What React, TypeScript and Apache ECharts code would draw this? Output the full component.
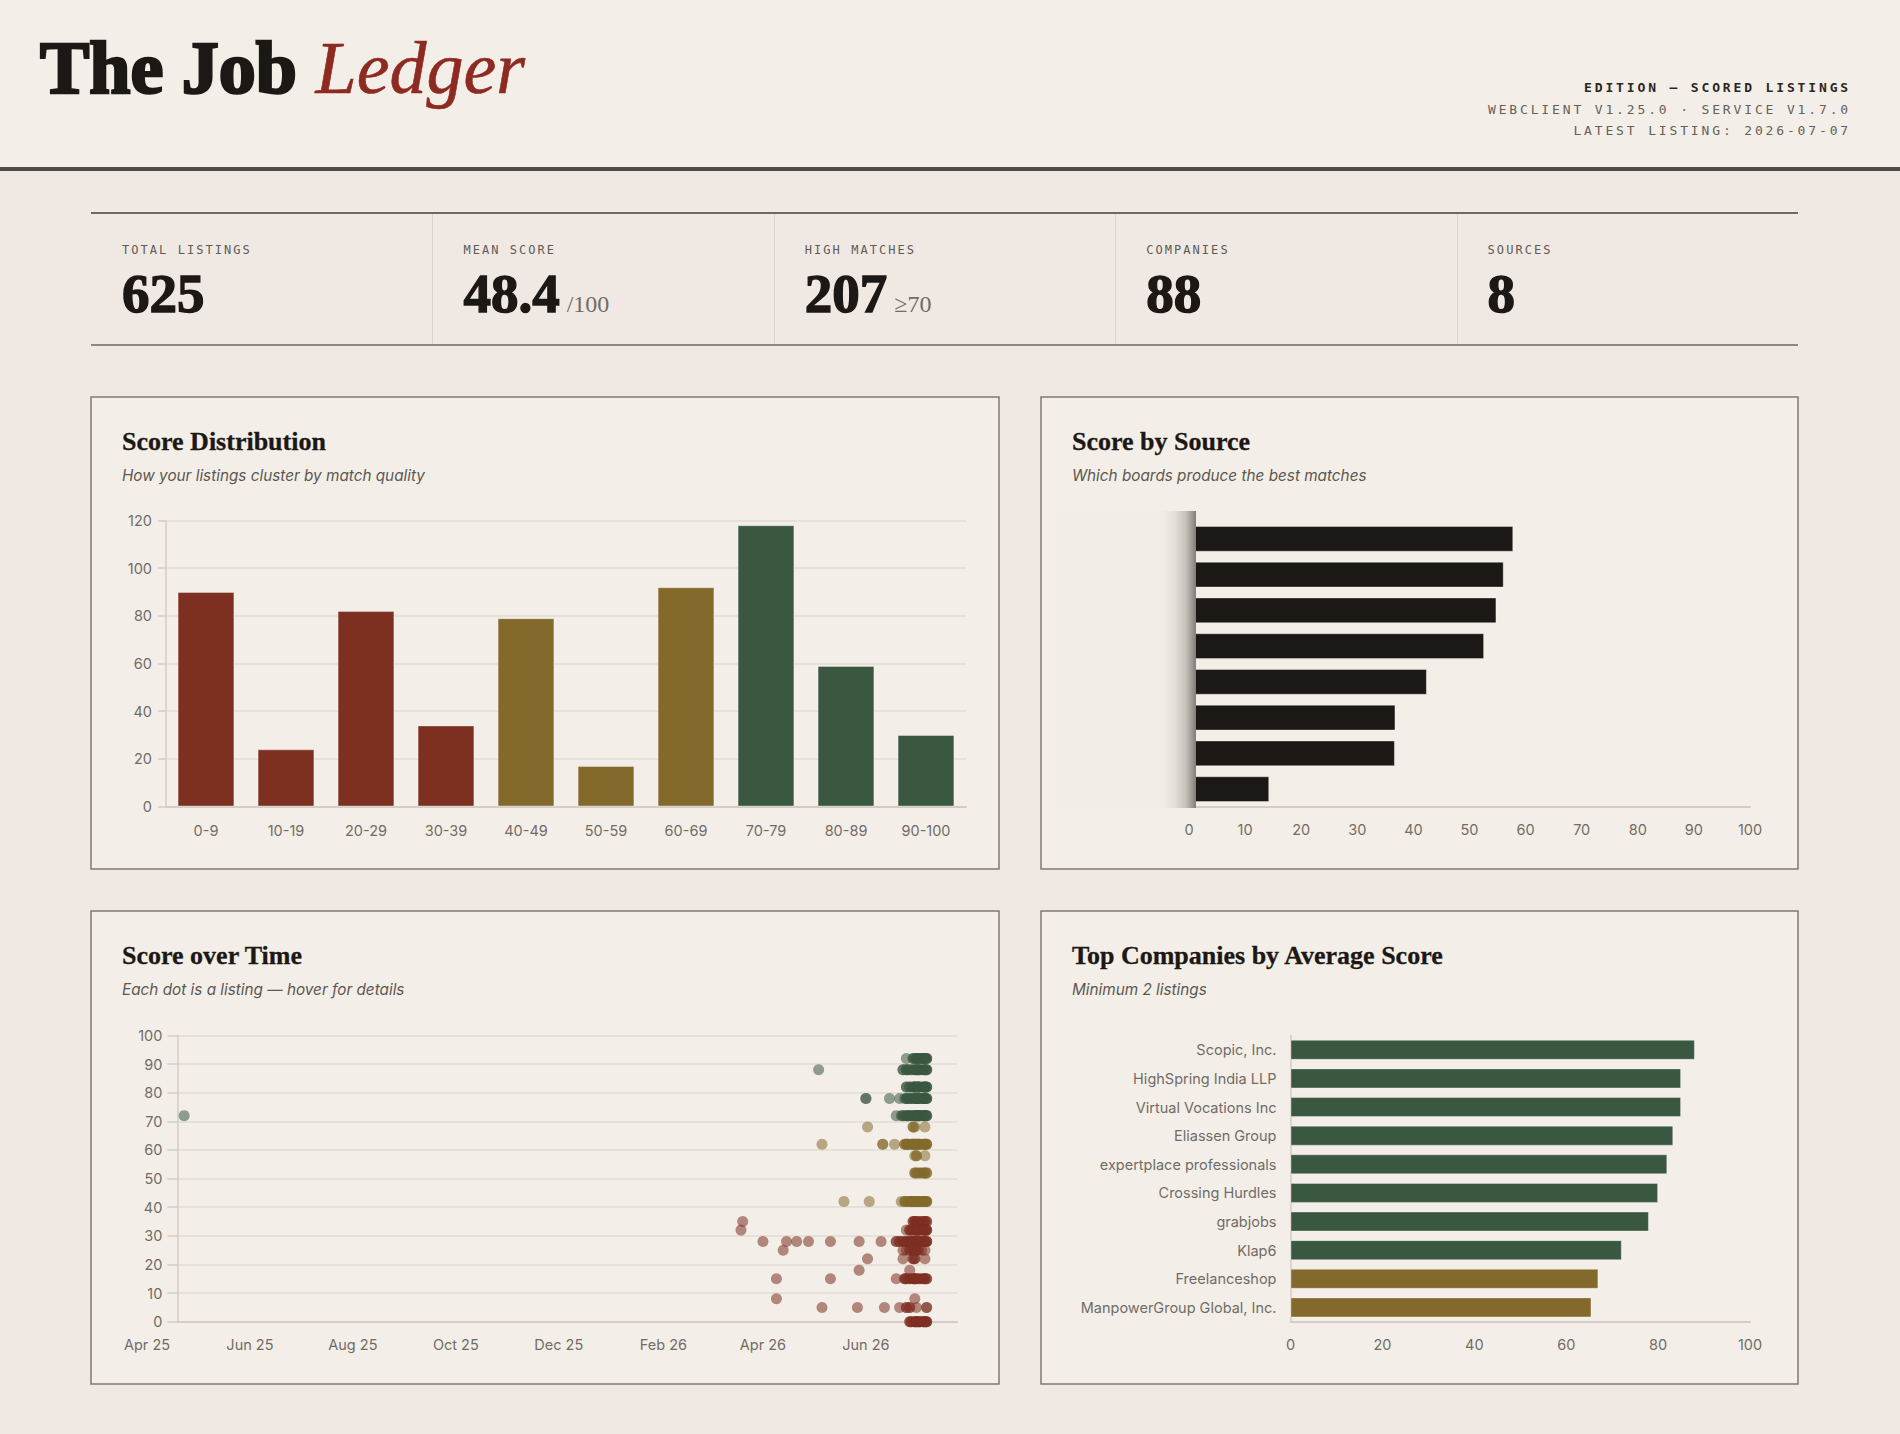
import React, { useEffect, useRef } from "react";
import * as echarts from "echarts";

// ---------- data ----------
const scoreBuckets = ["0-9", "10-19", "20-29", "30-39", "40-49", "50-59", "60-69", "70-79", "80-89", "90-100"];
const bucketCounts = [90, 24, 82, 34, 79, 17, 92, 118, 59, 30];

// source names are kept private (masked), only their rank is used as category
const sourceRanks = ["1", "2", "3", "4", "5", "6", "7", "8"];
const sourceAverages = [57.8, 56.1, 54.8, 52.6, 42.4, 36.8, 36.7, 14.3];

const companyNames = [
  "Scopic, Inc.",
  "HighSpring India LLP",
  "Virtual Vocations Inc",
  "Eliassen Group",
  "expertplace professionals",
  "Crossing Hurdles",
  "grabjobs",
  "Klap6",
  "Freelanceshop",
  "ManpowerGroup Global, Inc.",
];
const companyAverages = [88, 85, 85, 83.3, 82, 80, 78, 72.1, 67, 65.5];

const timeTickDates = ["2025-04-01", "2025-06-01", "2025-08-01", "2025-10-01", "2025-12-01", "2026-02-01", "2026-04-01", "2026-06-01"];
const timeAxisStart = "2025-04-19";
const timeAxisEnd = "2026-07-25";
const timeLabelStart = "2025-04-01";

// [posted date, score, number of listings]
const listingGroups: [string, number, number][] = [
  // 90+
  ["2026-06-25", 92, 1], ["2026-06-29", 92, 2], ["2026-06-30", 92, 1], ["2026-07-01", 92, 2], ["2026-07-02", 92, 2],
  ["2026-07-03", 92, 1], ["2026-07-04", 92, 2], ["2026-07-05", 92, 2], ["2026-07-06", 92, 3], ["2026-07-07", 92, 3],
  // 80s
  ["2026-05-04", 88, 1],
  ["2026-06-23", 88, 2], ["2026-06-25", 88, 2], ["2026-06-26", 88, 2], ["2026-06-28", 88, 2], ["2026-06-30", 88, 2],
  ["2026-07-01", 88, 2], ["2026-07-02", 88, 3], ["2026-07-03", 88, 2], ["2026-07-05", 88, 2], ["2026-07-06", 88, 2], ["2026-07-07", 88, 3],
  ["2026-06-25", 82, 2], ["2026-06-27", 82, 2], ["2026-06-29", 82, 2], ["2026-06-30", 82, 3], ["2026-07-01", 82, 2],
  ["2026-07-02", 82, 3], ["2026-07-03", 82, 2], ["2026-07-05", 82, 2], ["2026-07-06", 82, 3], ["2026-07-07", 82, 3],
  // 70s
  ["2026-06-01", 78, 2], ["2026-06-15", 78, 1], ["2026-06-21", 78, 1], ["2026-06-24", 78, 1], ["2026-06-25", 78, 2],
  ["2026-06-26", 78, 2], ["2026-06-28", 78, 3], ["2026-06-30", 78, 2], ["2026-07-01", 78, 3], ["2026-07-02", 78, 3],
  ["2026-07-03", 78, 2], ["2026-07-05", 78, 3], ["2026-07-06", 78, 3], ["2026-07-07", 78, 3],
  ["2025-04-23", 72, 1], ["2026-06-19", 72, 1], ["2026-06-22", 72, 1], ["2026-06-23", 72, 2], ["2026-06-25", 72, 2],
  ["2026-06-26", 72, 3], ["2026-06-28", 72, 3], ["2026-06-30", 72, 3], ["2026-07-01", 72, 3], ["2026-07-02", 72, 3],
  ["2026-07-03", 72, 3], ["2026-07-05", 72, 3], ["2026-07-06", 72, 3], ["2026-07-07", 72, 3],
  // 60s
  ["2026-06-02", 68, 1], ["2026-06-29", 68, 2], ["2026-06-30", 68, 1], ["2026-07-06", 68, 1],
  ["2026-05-06", 62, 1], ["2026-06-11", 62, 2], ["2026-06-18", 62, 1], ["2026-06-24", 62, 2], ["2026-06-25", 62, 2],
  ["2026-06-26", 62, 3], ["2026-06-28", 62, 2], ["2026-06-29", 62, 3], ["2026-06-30", 62, 2], ["2026-07-01", 62, 3],
  ["2026-07-02", 62, 2], ["2026-07-03", 62, 3], ["2026-07-05", 62, 2], ["2026-07-06", 62, 3], ["2026-07-07", 62, 3],
  // 50s
  ["2026-06-30", 58, 1], ["2026-07-01", 58, 2], ["2026-07-06", 58, 1],
  ["2026-06-30", 52, 2], ["2026-07-01", 52, 2], ["2026-07-03", 52, 2], ["2026-07-05", 52, 2], ["2026-07-06", 52, 2], ["2026-07-07", 52, 2],
  // 40s
  ["2026-05-19", 42, 1], ["2026-06-03", 42, 1], ["2026-06-22", 42, 1], ["2026-06-24", 42, 2], ["2026-06-25", 42, 2],
  ["2026-06-27", 42, 2], ["2026-06-28", 42, 2], ["2026-06-29", 42, 3], ["2026-07-01", 42, 3], ["2026-07-02", 42, 2],
  ["2026-07-03", 42, 3], ["2026-07-05", 42, 2], ["2026-07-06", 42, 3], ["2026-07-07", 42, 3],
  // 30s
  ["2026-03-20", 35, 1], ["2026-06-29", 35, 2], ["2026-06-30", 35, 2], ["2026-07-01", 35, 2], ["2026-07-03", 35, 2],
  ["2026-07-05", 35, 2], ["2026-07-06", 35, 2], ["2026-07-07", 35, 2],
  ["2026-03-19", 32, 1], ["2026-06-25", 32, 1], ["2026-06-27", 32, 2], ["2026-06-28", 32, 2], ["2026-06-30", 32, 2],
  ["2026-07-01", 32, 3], ["2026-07-02", 32, 2], ["2026-07-03", 32, 2], ["2026-07-05", 32, 2], ["2026-07-06", 32, 3], ["2026-07-07", 32, 3],
  // 20s
  ["2026-04-01", 28, 1], ["2026-04-15", 28, 1], ["2026-04-21", 28, 1], ["2026-04-28", 28, 1], ["2026-05-11", 28, 1],
  ["2026-05-28", 28, 1], ["2026-06-10", 28, 1], ["2026-06-19", 28, 2], ["2026-06-21", 28, 2], ["2026-06-23", 28, 2],
  ["2026-06-25", 28, 2], ["2026-06-26", 28, 3], ["2026-06-28", 28, 2], ["2026-06-29", 28, 3], ["2026-06-30", 28, 2],
  ["2026-07-01", 28, 3], ["2026-07-02", 28, 3], ["2026-07-03", 28, 2], ["2026-07-05", 28, 3], ["2026-07-06", 28, 3], ["2026-07-07", 28, 3],
  ["2026-04-13", 25, 1], ["2026-06-23", 25, 1], ["2026-06-25", 25, 1], ["2026-06-27", 25, 2], ["2026-06-29", 25, 2],
  ["2026-06-30", 25, 2], ["2026-07-01", 25, 1], ["2026-07-02", 25, 2], ["2026-07-04", 25, 1], ["2026-07-06", 25, 1],
  ["2026-06-02", 22, 1], ["2026-06-23", 22, 1], ["2026-06-29", 22, 2], ["2026-06-30", 22, 2], ["2026-07-06", 22, 1],
  // 10s
  ["2026-05-28", 18, 1], ["2026-06-27", 18, 1],
  ["2026-04-09", 15, 1], ["2026-05-11", 15, 1], ["2026-06-19", 15, 1], ["2026-06-24", 15, 2], ["2026-06-25", 15, 2],
  ["2026-06-27", 15, 2], ["2026-06-29", 15, 2], ["2026-06-30", 15, 3], ["2026-07-01", 15, 2], ["2026-07-03", 15, 2],
  ["2026-07-05", 15, 2], ["2026-07-06", 15, 2], ["2026-07-07", 15, 2],
  // under 10
  ["2026-04-09", 8, 1], ["2026-06-30", 8, 1],
  ["2026-05-06", 5, 1], ["2026-05-27", 5, 1], ["2026-06-12", 5, 1], ["2026-06-21", 5, 1], ["2026-06-25", 5, 2],
  ["2026-06-27", 5, 2], ["2026-07-01", 5, 1], ["2026-07-07", 5, 2],
  ["2026-06-27", 0, 2], ["2026-06-28", 0, 2], ["2026-06-30", 0, 3], ["2026-07-01", 0, 3], ["2026-07-02", 0, 2],
  ["2026-07-03", 0, 3], ["2026-07-05", 0, 3], ["2026-07-06", 0, 3], ["2026-07-07", 0, 3],
];

const kpiLabels = ["TOTAL LISTINGS", "MEAN SCORE", "HIGH MATCHES", "COMPANIES", "SOURCES"];
const kpiValues = ["625", "48.4", "207", "88", "8"];
const kpiUnits = ["", "/100", "≥70", "", ""];

const editionLines = ["EDITION — SCORED LISTINGS", "WEBCLIENT V1.25.0 · SERVICE V1.7.0", "LATEST LISTING: 2026-07-07"];

const panelTitles = [
  ["Score Distribution", "How your listings cluster by match quality"],
  ["Score by Source", "Which boards produce the best matches"],
  ["Score over Time", "Each dot is a listing — hover for details"],
  ["Top Companies by Average Score", "Minimum 2 listings"],
];

// ---------- style ----------
const RED = "#7d2f22";
const OLIVE = "#84692c";
const GREEN = "#3a5740";
const INK = "#1c1815";
const PAPER = "#f3efe8";
const PAGE = "#f0e9e3";
const LABEL = "#716c66";
const SPLIT = "#e0dbd3";
const AXIS = "#d3cdc5";
const SANS = "Inter, 'Liberation Sans', Arial, sans-serif";
const SERIF = "'Liberation Serif', 'Times New Roman', serif";
const MONO = "'DejaVu Sans Mono', monospace";

const MONTHS = ["Jan", "Feb", "Mar", "Apr", "May", "Jun", "Jul", "Aug", "Sep", "Oct", "Nov", "Dec"];

const toTime = (d: string) => new Date(d + "T00:00:00").getTime();
const tone = (score: number) => (score >= 70 ? GREEN : score >= 40 ? OLIVE : RED);
const monthLabel = (v: number) => {
  const d = new Date(v);
  return `${MONTHS[d.getMonth()]} ${String(d.getFullYear()).slice(2)}`;
};

const axisText = (margin: number) => ({ color: LABEL, fontSize: 14.5, fontFamily: SANS, margin });

// panel frames on the page
const panels = [
  { x: 91, y: 397, w: 908, h: 472 },
  { x: 1041, y: 397, w: 757, h: 472 },
  { x: 91, y: 911, w: 908, h: 473 },
  { x: 1041, y: 911, w: 757, h: 473 },
];

// time scale: the label axis starts at the first tick, the plot axis a little later,
// both sharing the same pixels per day and right edge
const timeRight = 957;
const labelLeft = 147;
const DAY = 86400000;
const pxPerDay = (timeRight - labelLeft) / ((toTime(timeAxisEnd) - toTime(timeLabelStart)) / DAY);
const plotLeft = labelLeft + ((toTime(timeAxisStart) - toTime(timeLabelStart)) / DAY) * pxPerDay;

function buildOption(): any {
  const listingPoints = listingGroups.flatMap(([d, s, n]) =>
    Array.from({ length: n }, () => [toTime(d), s])
  );

  const graphics: any[] = [];
  panels.forEach((p, i) => {
    graphics.push({
      type: "rect",
      z: -10,
      shape: { x: p.x, y: p.y, width: p.w, height: p.h },
      style: { fill: PAPER, stroke: "#7f7a73", lineWidth: 1.5 },
    });
    graphics.push({
      type: "text",
      z: 5,
      style: {
        x: p.x + 31,
        y: p.y + 44.5,
        text: panelTitles[i][0],
        fill: INK,
        font: `bold 26px ${SERIF}`,
        stroke: INK,
        lineWidth: 0.3,
        textVerticalAlign: "middle",
      },
    });
    graphics.push({
      type: "text",
      z: 5,
      style: {
        x: p.x + 31,
        y: p.y + 78.5,
        text: panelTitles[i][1],
        fill: "#5c5751",
        font: `italic 15.3px ${SANS}`,
        textVerticalAlign: "middle",
      },
    });
  });

  return {
    animation: false,
    backgroundColor: "transparent",
    graphic: graphics,
    grid: [
      { left: 166, top: 520.5, width: 800, height: 286 },
      { left: 1189, top: 521, width: 561, height: 286 },
      { left: plotLeft, top: 1035.5, width: timeRight - plotLeft, height: 286.2 },
      { left: labelLeft, top: 1035.5, width: timeRight - labelLeft, height: 286.2 },
      { left: 1290.5, top: 1035.5, width: 459.5, height: 286.2 },
    ],
    xAxis: [
      {
        gridIndex: 0,
        type: "category",
        data: scoreBuckets,
        axisTick: { show: false },
        axisLine: { show: true, lineStyle: { color: AXIS, width: 2 } },
        axisLabel: axisText(16),
      },
      {
        gridIndex: 1,
        type: "value",
        min: 0,
        max: 100,
        interval: 10,
        splitLine: { show: false },
        axisTick: { show: false },
        axisLine: { show: true, lineStyle: { color: AXIS, width: 2 } },
        axisLabel: axisText(15),
      },
      {
        gridIndex: 2,
        type: "value",
        min: toTime(timeAxisStart),
        max: toTime(timeAxisEnd),
        axisLabel: { show: false },
        axisTick: { show: false },
        splitLine: { show: false },
        axisLine: { show: true, lineStyle: { color: AXIS, width: 2 } },
      },
      {
        gridIndex: 3,
        type: "value",
        min: toTime(timeLabelStart),
        max: toTime(timeAxisEnd),
        axisLine: { show: false },
        axisTick: { show: false },
        splitLine: { show: false },
        axisLabel: {
          ...axisText(15),
          customValues: timeTickDates.map(toTime),
          formatter: monthLabel,
          showMinLabel: true,
        },
      },
      {
        gridIndex: 4,
        type: "value",
        min: 0,
        max: 100,
        interval: 20,
        splitLine: { show: false },
        axisTick: { show: false },
        axisLine: { show: true, lineStyle: { color: AXIS, width: 2 } },
        axisLabel: axisText(15),
      },
    ],
    yAxis: [
      {
        gridIndex: 0,
        type: "value",
        min: 0,
        max: 120,
        interval: 20,
        axisLine: { show: true, lineStyle: { color: AXIS, width: 1.5 } },
        axisTick: { show: true, length: 8, lineStyle: { color: AXIS, width: 1.5 } },
        splitLine: { lineStyle: { color: SPLIT, width: 1.5 } },
        axisLabel: axisText(14),
      },
      {
        gridIndex: 1,
        type: "category",
        data: sourceRanks,
        inverse: true,
        axisLabel: { show: false },
        axisTick: { show: false },
        axisLine: { show: true, lineStyle: { color: AXIS } },
      },
      {
        gridIndex: 2,
        type: "value",
        min: 0,
        max: 100,
        interval: 10,
        axisLine: { show: true, lineStyle: { color: AXIS, width: 1.5 } },
        axisTick: { show: true, length: 10, lineStyle: { color: AXIS, width: 1.5 } },
        splitLine: { lineStyle: { color: SPLIT, width: 1.5 } },
        axisLabel: axisText(15),
      },
      { gridIndex: 3, type: "value", min: 0, max: 100, show: false },
      {
        gridIndex: 4,
        type: "category",
        data: companyNames,
        inverse: true,
        axisTick: { show: false },
        axisLine: { show: true, lineStyle: { color: AXIS, width: 1.5 } },
        axisLabel: axisText(14),
      },
    ],
    series: [
      {
        type: "bar",
        xAxisIndex: 0,
        yAxisIndex: 0,
        barWidth: "71%",
        data: bucketCounts.map((v, i) => ({ value: v, itemStyle: { color: tone(i * 10) } })),
        itemStyle: { borderColor: "rgba(255,255,255,0.35)", borderWidth: 1 },
      },
      {
        type: "bar",
        xAxisIndex: 1,
        yAxisIndex: 1,
        barWidth: "72%",
        data: sourceAverages,
        itemStyle: { color: INK, borderColor: "rgba(255,255,255,0.35)", borderWidth: 1 },
      },
      {
        type: "scatter",
        xAxisIndex: 2,
        yAxisIndex: 2,
        symbolSize: 11,
        clip: false,
        data: listingPoints,
        itemStyle: {
          color: (p: any) => tone(p.value[1]),
          opacity: 0.55,
        },
      },
      {
        type: "bar",
        xAxisIndex: 4,
        yAxisIndex: 4,
        barWidth: 20,
        data: companyAverages.map((v) => ({ value: v, itemStyle: { color: tone(v) } })),
        itemStyle: { borderColor: "rgba(255,255,255,0.35)", borderWidth: 1 },
      },
    ],
  };
}

function Dashboard() {
  const ref = useRef<HTMLDivElement>(null);

  useEffect(() => {
    if (!ref.current) return;
    const chart = echarts.init(ref.current, undefined, { renderer: "svg" });
    chart.setOption(buildOption());
    return () => chart.dispose();
  }, []);

  const cellW = (1798 - 91) / 5;

  return (
    <div style={{ position: "absolute", left: 0, top: 0, width: 1900, height: 1434, background: PAGE, overflow: "hidden" }}>
      <div ref={ref} style={{ position: "absolute", left: 0, top: 0, width: 1900, height: 1434, zIndex: 1 }} />

      {/* masthead */}
      <div style={{ position: "absolute", left: 0, top: 0, width: 1900, height: 167, background: PAPER, zIndex: 2 }} />
      <div style={{ position: "absolute", left: 0, top: 167, width: 1900, height: 4, background: "#4f4b46", zIndex: 2 }} />
      <div
        style={{
          position: "absolute",
          left: 40,
          top: 30.5,
          fontFamily: SERIF,
          fontSize: 74,
          lineHeight: "74px",
          fontWeight: 700,
          color: INK,
          WebkitTextStroke: `2.6px ${INK}`,
          whiteSpace: "nowrap",
          zIndex: 3,
        }}
      >
        The Job{" "}
        <span style={{ fontStyle: "italic", fontWeight: 400, color: "#8d2a21", WebkitTextStroke: "0.6px #8d2a21" }}>Ledger</span>
      </div>
      {editionLines.map((t, i) => (
        <div
          key={t}
          style={{
            position: "absolute",
            right: 49,
            top: 80 + i * 21.7,
            fontFamily: MONO,
            fontSize: 13,
            lineHeight: "16px",
            letterSpacing: "2.85px",
            fontWeight: i === 0 ? 700 : 400,
            color: i === 0 ? "#2a2622" : "#655f59",
            whiteSpace: "nowrap",
            zIndex: 3,
          }}
        >
          {t}
        </div>
      ))}

      {/* headline figures */}
      <div style={{ position: "absolute", left: 91, top: 212, width: 1707, height: 2, background: "#6d6963", zIndex: 2 }} />
      <div style={{ position: "absolute", left: 91, top: 344, width: 1707, height: 2, background: "#8d8880", zIndex: 2 }} />
      {kpiLabels.map((label, i) => (
        <React.Fragment key={label}>
          {i > 0 && (
            <div
              style={{ position: "absolute", left: 91 + i * cellW, top: 214, width: 1, height: 130, background: "#dad4cc", zIndex: 2 }}
            />
          )}
          <div
            style={{
              position: "absolute",
              left: 91 + i * cellW + 31,
              top: 242,
              fontFamily: MONO,
              fontSize: 12,
              lineHeight: "16px",
              letterSpacing: "2.05px",
              color: "#5f5a54",
              whiteSpace: "nowrap",
              zIndex: 3,
            }}
          >
            {label}
          </div>
          <div
            style={{
              position: "absolute",
              left: 91 + i * cellW + 31,
              top: 266,
              fontFamily: SERIF,
              fontSize: 55,
              lineHeight: "55px",
              fontWeight: 700,
              color: INK,
              WebkitTextStroke: `1.4px ${INK}`,
              whiteSpace: "nowrap",
              zIndex: 3,
            }}
          >
            {kpiValues[i]}
            {kpiUnits[i] && (
              <span
                style={{
                  fontSize: 24,
                  fontWeight: 400,
                  color: LABEL,
                  WebkitTextStroke: "0px",
                  marginLeft: 7,
                }}
              >
                {kpiUnits[i]}
              </span>
            )}
          </div>
        </React.Fragment>
      ))}

      {/* source names are masked: a soft panel that smears the bar starts */}
      <div
        style={{
          position: "absolute",
          left: 1055,
          top: 511,
          width: 141,
          height: 297,
          background:
            "linear-gradient(to right, rgba(242,238,231,1) 0%, rgba(242,238,231,1) 76%, rgba(228,224,217,1) 85%, rgba(196,191,184,1) 93%, rgba(150,145,139,1) 98%, rgba(128,123,117,1) 100%)",
          zIndex: 4,
          pointerEvents: "none",
        }}
      />
    </div>
  );
}

export default function App() {
  return <Dashboard />;
}
